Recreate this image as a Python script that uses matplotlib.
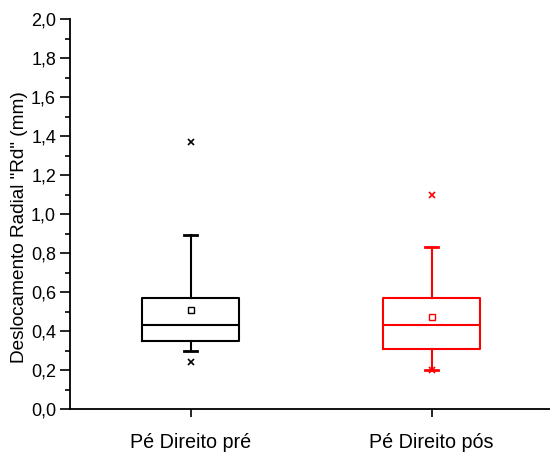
import matplotlib
matplotlib.use("Agg")
import matplotlib.pyplot as plt
from matplotlib.ticker import MultipleLocator, FuncFormatter

plt.rcParams['font.family'] = ['Liberation Sans', 'DejaVu Sans']

labels = ["Pé Direito pré", "Pé Direito pós"]
colors = ["black", "red"]
q1 = [0.35, 0.31]
med = [0.43, 0.43]
q3 = [0.57, 0.57]
mean = [0.51, 0.47]
whislo = [0.30, 0.20]
whishi = [0.89, 0.83]
fliers = [[0.24, 1.37], [0.20, 1.10]]

stats = []
for i in range(2):
    stats.append(dict(label=labels[i], q1=q1[i], med=med[i], q3=q3[i], mean=mean[i],
                      whislo=whislo[i], whishi=whishi[i], fliers=fliers[i]))

fig = plt.figure(figsize=(5.5, 4.55), dpi=100)
ax = fig.add_axes([70 / 550, 46 / 455, 480 / 550, 390 / 455])

for i, s in enumerate(stats):
    c = colors[i]
    ax.bxp([s], positions=[i + 1], widths=0.4, showmeans=True,
           boxprops=dict(color=c, linewidth=1.5),
           medianprops=dict(color=c, linewidth=1.5),
           whiskerprops=dict(color=c, linewidth=1.5),
           capprops=dict(color=c, linewidth=2),
           capwidths=0.055,
           meanprops=dict(marker='s', markerfacecolor='white', markeredgecolor=c,
                          markersize=4, markeredgewidth=1),
           flierprops=dict(marker='x', markeredgecolor=c, markersize=4, markeredgewidth=1.2))

ax.set_xlim(0.5, 0.5 + 480 / 241)
ax.set_ylim(0, 2.0)
ax.set_xticks([1, 2])
ax.set_xticklabels(labels, fontsize=14.2)
ax.yaxis.set_major_locator(MultipleLocator(0.2))
ax.yaxis.set_minor_locator(MultipleLocator(0.1))
ax.yaxis.set_major_formatter(FuncFormatter(lambda v, p: f"{v:.1f}".replace(".", ",")))
ax.tick_params(axis='y', labelsize=13, length=7, width=1.2, pad=3)
ax.tick_params(axis='y', which='minor', length=3.5, width=1.2)
ax.tick_params(axis='x', length=6, width=1.2, pad=11)
ax.spines['top'].set_visible(False)
ax.spines['right'].set_visible(False)
ax.spines['left'].set_linewidth(1.3)
ax.spines['bottom'].set_linewidth(1.3)
ax.set_ylabel('Deslocamento Radial "Rd" (mm)', fontsize=13.7, va='center')
ax.yaxis.set_label_coords(-50 / 480, 182 / 390)

fig.savefig("out.png", dpi=100)
